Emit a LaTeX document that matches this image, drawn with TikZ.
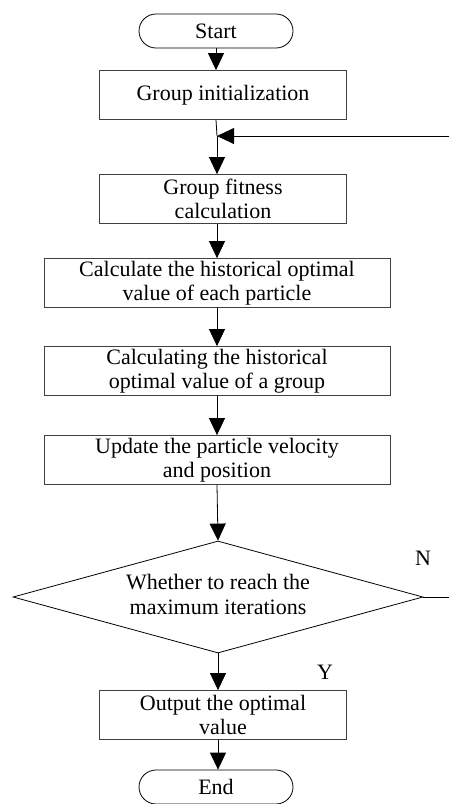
\documentclass[tikz,border=0pt]{standalone}
\usepackage{fontspec}
\setmainfont{Liberation Serif}
\usetikzlibrary{arrows.meta,shapes.geometric}

\tikzset{
  stepbox/.style={rectangle, draw=black!75, line width=0.8pt, text centered, align=center, inner sep=0pt, minimum height=49pt},
  narrowbox/.style={stepbox, minimum width=247pt},
  widebox/.style={stepbox, minimum width=346pt},
  terminal/.style={rectangle, draw, line width=0.8pt, rounded corners=17pt, minimum width=154pt, minimum height=34pt, inner sep=0pt},
  decision/.style={diamond, draw, line width=0.8pt, aspect=3.66, minimum width=410pt, minimum height=112pt, inner sep=0pt, align=center},
  flow/.style={line width=0.8pt, -{Triangle[length=17pt,width=16pt]}},
  plain/.style={line width=0.8pt}
}

\begin{document}
\begin{tikzpicture}[x=1pt, y=-1pt, font=\fontsize{22}{24.5}\selectfont]
\useasboundingbox (0,0) rectangle (448,804);

\node [terminal] (start) at (216,31) {Start};
\node [narrowbox] (init) at (223,95) {Group initialization};
\node [narrowbox] (fit) at (223,199) {Group fitness\\calculation};
\node [widebox] (hist) at (217,283) {Calculate the historical optimal\\value of each particle};
\node [widebox] (grp) at (217,371) {Calculating the historical\\optimal value of a group};
\node [widebox] (upd) at (217,460) {Update the particle velocity\\and position};
\node [decision] (dec) at (218,597) {\raisebox{-6pt}{\begin{tabular}{@{}c@{}}Whether to reach the\\maximum iterations\end{tabular}}};
\node [narrowbox] (out) at (223,715) {Output the optimal\\value};
\node [terminal] (end) at (216,787) {End};

\coordinate (join) at (217,136);
\coordinate (backbot) at (449.5,597);
\coordinate (backtop) at (449.5,136);

\draw [flow] (start.south) -- (start.south |- init.north);
\draw [plain] (start.south |- init.south) -- (join);
\draw [flow] (join) -- (join |- fit.north);
\draw [flow] (join |- fit.south) -- (hist.north);
\draw [flow] (hist.south) -- (grp.north);
\draw [flow] (grp.south) -- (upd.north);
\draw [flow] (upd.south) -- (dec.north);
\draw [flow] (dec.south) -- (dec.south |- out.north);
\draw [flow] (dec.south |- out.south) -- (dec.south |- end.north);

% loop back when the limit is not reached
\draw [flow] (dec.east) -- (backbot) -- (backtop) -- (join);

\node (nolabel) at (423,558) {N};
\node (yeslabel) at (325,672) {Y};
\end{tikzpicture}
\end{document}
